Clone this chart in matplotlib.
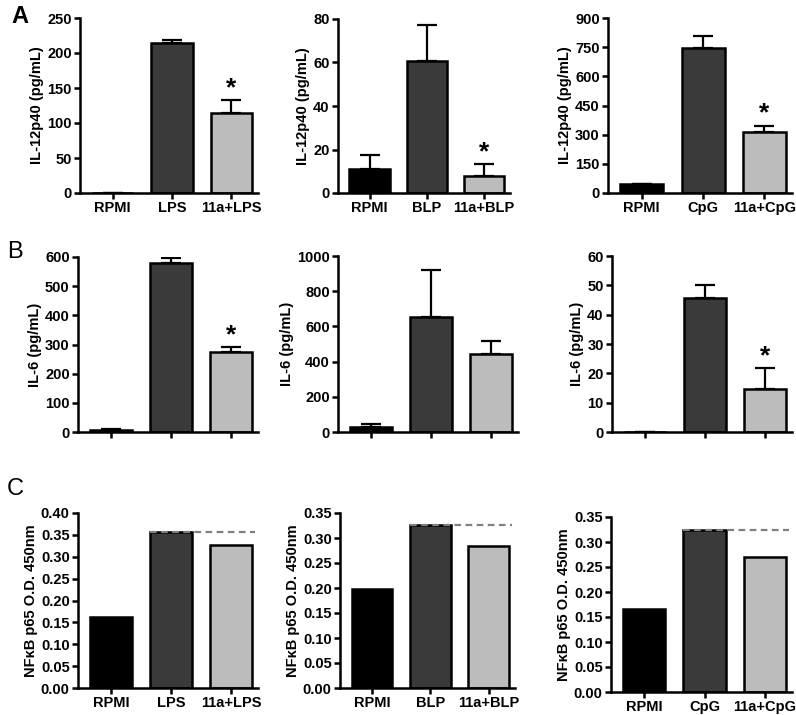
import matplotlib
matplotlib.use("Agg")
import matplotlib.pyplot as plt
import numpy as np

plt.rcParams['font.family'] = ['Liberation Sans', 'DejaVu Sans']
plt.rcParams['font.weight'] = 'bold'

# categories
labels_lps = ["RPMI", "LPS", "11a+LPS"]
labels_blp = ["RPMI", "BLP", "11a+BLP"]
labels_cpg = ["RPMI", "CpG", "11a+CpG"]

# row A: IL-12p40
il12_lps = [0, 214, 114]
il12_lps_err = [0, 4.5, 19]
il12_blp = [11, 60.5, 7.6]
il12_blp_err = [6.6, 16.6, 5.7]
il12_cpg = [46, 748, 314]
il12_cpg_err = [0, 58, 33]

# row B: IL-6
il6_lps = [6, 580, 275]
il6_lps_err = [5, 17, 17]
il6_blp = [30, 655, 443]
il6_blp_err = [15, 268, 75]
il6_cpg = [0, 45.7, 14.5]
il6_cpg_err = [0, 4.5, 7.2]

# row C: NFkB p65
nfkb_lps = [0.163, 0.356, 0.326]
nfkb_blp = [0.199, 0.327, 0.284]
nfkb_cpg = [0.166, 0.325, 0.270]

colors = ["#000000", "#3a3a3a", "#bcbcbc"]

fig = plt.figure(figsize=(7.96, 7.15), dpi=100)
W, H = 796.0, 715.0


def make_ax(x0, x1, ytop, ybot):
    return fig.add_axes([x0 / W, 1 - ybot / H, (x1 - x0) / W, (ybot - ytop) / H])


def panel(ax, vals, errs, labels, ticks, ylabel, star=False, show_labels=True,
          ref_line=False, fmt=None):
    x = np.arange(len(vals))
    ax.bar(x, vals, width=0.7, color=colors, edgecolor="black", linewidth=1.8, zorder=2)
    if errs is not None:
        ax.errorbar(x, vals, yerr=[np.zeros(len(vals)), errs], fmt="none",
                    ecolor="black", elinewidth=1.6, capsize=7, capthick=1.6, zorder=1)
    if star:
        top = vals[2] + errs[2]
        ax.text(2, top + ticks[-1] * 0.0, "*", ha="center", va="bottom",
                fontsize=19, fontweight="bold")
    if ref_line:
        ax.plot([0.65, 2.4], [vals[1], vals[1]], color="#808080", linestyle=(0, (3, 2)),
                linewidth=1.6, zorder=3)
    ax.set_xlim(-0.55, 2.45)
    ax.set_ylim(0, ticks[-1])
    ax.set_yticks(ticks)
    if fmt:
        ax.set_yticklabels([fmt % t for t in ticks])
    ax.set_xticks(x)
    if show_labels:
        ax.set_xticklabels(labels, fontsize=10.5, fontweight="bold")
    else:
        ax.set_xticklabels([])
    for s in ["top", "right"]:
        ax.spines[s].set_visible(False)
    for s in ["left", "bottom"]:
        ax.spines[s].set_linewidth(1.8)
    ax.tick_params(width=1.8, length=4, labelsize=10.5, pad=2)
    ax.set_ylabel(ylabel, fontsize=10.5, fontweight="bold", labelpad=2)


# row A
a1 = make_ax(80, 258, 18, 193)
panel(a1, il12_lps, il12_lps_err, labels_lps, np.arange(0, 251, 50), "IL-12p40 (pg/mL)", star=True)
a2 = make_ax(338, 510, 19, 193)
panel(a2, il12_blp, il12_blp_err, labels_blp, np.arange(0, 81, 20), "IL-12p40 (pg/mL)", star=True)
a3 = make_ax(608, 792, 18, 193)
panel(a3, il12_cpg, il12_cpg_err, labels_cpg, np.arange(0, 901, 150), "IL-12p40 (pg/mL)", star=True)

# row B
b1 = make_ax(78, 258, 257, 432)
panel(b1, il6_lps, il6_lps_err, labels_lps, np.arange(0, 601, 100), "IL-6 (pg/mL)", star=True, show_labels=False)
b2 = make_ax(338, 518, 256, 432)
panel(b2, il6_blp, il6_blp_err, labels_blp, np.arange(0, 1001, 200), "IL-6 (pg/mL)", show_labels=False)
b3 = make_ax(612, 792, 256, 432)
panel(b3, il6_cpg, il6_cpg_err, labels_cpg, np.arange(0, 61, 10), "IL-6 (pg/mL)", star=True, show_labels=False)

# row C
ct = np.round(np.arange(0, 0.401, 0.05), 2)
ct2 = np.round(np.arange(0, 0.351, 0.05), 2)
c1 = make_ax(78, 258, 513, 688)
panel(c1, nfkb_lps, None, labels_lps, ct, "NF\u03baB p65 O.D. 450nm", ref_line=True, fmt="%.2f")
c2 = make_ax(340, 515, 513, 688)
panel(c2, nfkb_blp, None, labels_blp, ct2, "NF\u03baB p65 O.D. 450nm", ref_line=True, fmt="%.2f")
c3 = make_ax(611, 792, 517, 692)
panel(c3, nfkb_cpg, None, labels_cpg, ct2, "NF\u03baB p65 O.D. 450nm", ref_line=True, fmt="%.2f")

fig.text(11 / W, 1 - 23 / H, "A", fontsize=17, fontweight="bold")
fig.text(7 / W, 1 - 258 / H, "B", fontsize=17, fontweight="normal")
fig.text(7 / W, 1 - 495 / H, "C", fontsize=17, fontweight="normal")

fig.savefig("out.png", dpi=100)
